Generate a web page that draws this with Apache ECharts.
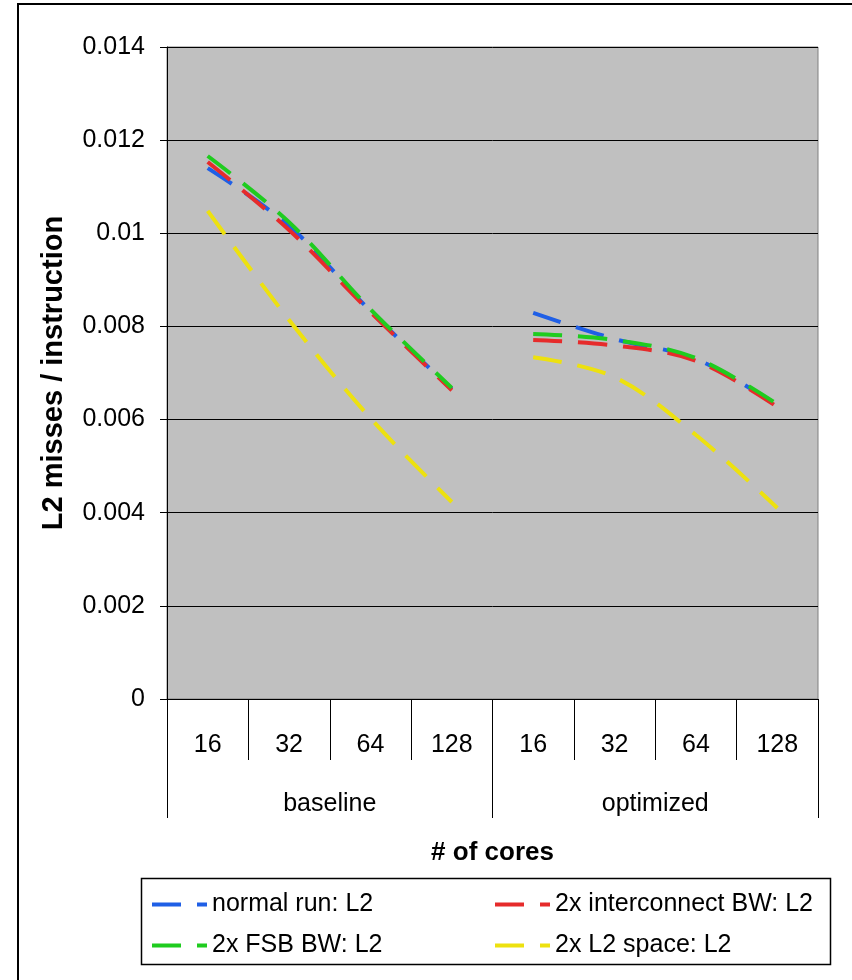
<!DOCTYPE html>
<html>
<head>
<meta charset="utf-8">
<script src="https://cdn.jsdelivr.net/npm/echarts@6/dist/echarts.min.js"></script>
<style>
  html, body { margin: 0; padding: 0; background: #fff; }
  #chart { width: 852px; height: 980px; }
</style>
</head>
<body>
<div id="chart"></div>
<script>
// ---- data ----
var coreLabels = ['16', '32', '64', '128', '16', '32', '64', '128'];
var groupLabels = ['baseline', 'optimized'];
var yTicks = [0, 0.002, 0.004, 0.006, 0.008, 0.01, 0.012, 0.014];

var seriesNames = ['normal run: L2', '2x interconnect BW: L2', '2x FSB BW: L2', '2x L2 space: L2'];

var normalBaseline = [0.0114, 0.01016, 0.00833, 0.00665];
var normalOptimized = [0.00829, 0.00773, 0.0073, 0.0063];
var interBaseline = [0.01153, 0.01007, 0.00831, 0.00663];
var interOptimized = [0.00771, 0.00759, 0.00726, 0.00627];
var fsbBaseline = [0.01166, 0.01024, 0.00837, 0.00668];
var fsbOptimized = [0.00784, 0.00771, 0.00732, 0.00633];
var l2Baseline = [0.01048, 0.00814, 0.00603, 0.00423];
var l2Optimized = [0.00734, 0.00691, 0.00567, 0.0041];

var colors = ['#1F5FE6', '#E62B2B', '#1FCC1F', '#EDE10F'];
var FONT = 'Liberation Sans, Arial, sans-serif';

var groupsData = [
  [normalBaseline, normalOptimized],
  [interBaseline, interOptimized],
  [fsbBaseline, fsbOptimized],
  [l2Baseline, l2Optimized]
];

var series = [];
groupsData.forEach(function (pair, i) {
  var base = pair[0].concat(['-', '-', '-', '-']);
  var opt = ['-', '-', '-', '-'].concat(pair[1]);
  [base, opt].forEach(function (d) {
    series.push({
      name: seriesNames[i],
      type: 'line',
      xAxisIndex: 0,
      data: d,
      smooth: 0.35,
      symbol: 'none',
      showSymbol: false,
      connectNulls: false,
      color: colors[i],
      lineStyle: { color: colors[i], width: 4, type: [29, 16], cap: 'butt' },
      z: 3
    });
  });
});

var legendCommon = {
  orient: 'vertical',
  top: 892,
  padding: 0,
  itemWidth: 55, itemHeight: 26, itemGap: 16,
  itemStyle: { opacity: 0, borderWidth: 0 },
  lineStyle: { width: 4 },
  textStyle: { fontSize: 25, color: '#000', fontFamily: FONT }
};

var chart = echarts.init(document.getElementById('chart'), null, { renderer: 'canvas' });
chart.setOption({
  animation: false,
  backgroundColor: '#ffffff',
  textStyle: { fontFamily: FONT, color: '#000' },
  grid: {
    left: 167, right: 34, top: 47, bottom: 281,
    show: true, backgroundColor: '#C0C0C0', borderColor: '#808080', borderWidth: 1
  },
  xAxis: [
    {
      type: 'category',
      data: coreLabels,
      position: 'bottom',
      boundaryGap: true,
      axisLine: { show: true, lineStyle: { color: '#000', width: 1 } },
      axisTick: { show: true, interval: 0, length: 61, lineStyle: { color: '#000', width: 1 } },
      axisLabel: { interval: 0, margin: 34, fontSize: 25, color: '#000', fontFamily: FONT },
      splitLine: { show: false }
    },
    {
      type: 'category',
      data: groupLabels,
      position: 'bottom',
      boundaryGap: true,
      axisLine: { show: false },
      axisTick: { show: true, interval: 0, length: 119, lineStyle: { color: '#000', width: 1 } },
      axisLabel: { interval: 0, margin: 93, fontSize: 25, color: '#000', fontFamily: FONT },
      splitLine: { show: false },
      name: '# of cores',
      nameLocation: 'middle',
      nameGap: 141,
      nameTextStyle: { fontSize: 26, fontWeight: 'bold', color: '#000', fontFamily: FONT }
    }
  ],
  yAxis: {
    type: 'value',
    min: 0, max: 0.014, interval: 0.002,
    axisLine: { show: true, lineStyle: { color: '#000', width: 1 } },
    axisTick: { show: true, length: 7, lineStyle: { color: '#000' } },
    splitLine: { show: true, lineStyle: { color: '#000', width: 1 } },
    axisLabel: {
      margin: 22, fontSize: 25, color: '#000', fontFamily: FONT,
      formatter: function (v) { return String(parseFloat(v.toFixed(3))); }
    },
    name: 'L2 misses / instruction',
    nameLocation: 'middle',
    nameRotate: 90,
    nameGap: 99,
    nameTextStyle: { fontSize: 29, fontWeight: 'bold', color: '#000', fontFamily: FONT }
  },
  legend: [
    Object.assign({}, legendCommon, { left: 150, data: [seriesNames[0], seriesNames[2]] }),
    Object.assign({}, legendCommon, { left: 493, data: [seriesNames[1], seriesNames[3]] })
  ],
  graphic: [
    {
      type: 'rect', silent: true, z: -1,
      shape: { x: 18, y: 4, width: 900, height: 1000 },
      style: { fill: 'none', stroke: '#000', lineWidth: 2 }
    },
    {
      type: 'rect', silent: true,
      shape: { x: 141.5, y: 878.5, width: 689, height: 86 },
      style: { fill: 'none', stroke: '#000', lineWidth: 1.5 }
    }
  ],
  series: series
});
</script>
</body>
</html>
